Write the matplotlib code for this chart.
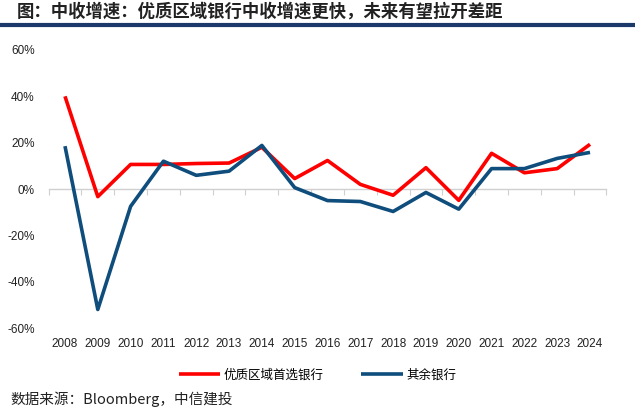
import matplotlib.pyplot as plt
import matplotlib.lines as mlines
from matplotlib.ticker import FixedLocator, FuncFormatter

plt.rcParams['font.family'] = ['Noto Sans CJK SC', 'DejaVu Sans']

# data (fee income growth, %)
years = [str(y) for y in range(2008, 2025)]
top_banks = [40.0, -3.3, 10.6, 10.6, 11.0, 11.2, 18.0, 4.5, 12.3, 2.0, -2.7,
             9.2, -4.9, 15.4, 7.0, 8.8, 19.3]
other_banks = [18.5, -52.0, -7.5, 12.0, 5.9, 7.7, 18.8, 0.6, -5.0, -5.4, -9.7,
               -1.5, -8.7, 8.8, 8.8, 13.2, 15.8]
legend_labels = ['优质区域首选银行', '其余银行']
title = '图：中收增速：优质区域银行中收增速更快，未来有望拉开差距'
source = '数据来源：Bloomberg，中信建投'

red = '#FF0000'
blue = '#0E4D7C'
navy = '#1B3A6B'

fig = plt.figure(figsize=(6.35, 4.2), dpi=100)
ax = fig.add_axes([0.0765, 0.219, 0.8785, 0.662])

x = list(range(len(years)))
l1, = ax.plot(x, top_banks, color=red, lw=2.6, solid_capstyle='butt', zorder=3)
l2, = ax.plot(x, other_banks, color=blue, lw=2.6, solid_capstyle='butt', zorder=4)

ax.set_xlim(-0.5, len(years) - 0.5)
ax.set_ylim(-60, 60)
ax.set_yticks(range(-60, 61, 20))
ax.yaxis.set_major_formatter(FuncFormatter(lambda v, p: f'{v:.0f}%'))
ax.tick_params(axis='y', length=0, pad=10, labelsize=8.5,
               labelfontfamily='Liberation Sans', labelcolor='#222222')

for s in ['top', 'right', 'left']:
    ax.spines[s].set_visible(False)
ax.spines['bottom'].set_position(('data', 0))
ax.spines['bottom'].set_color('#D0D0D0')
ax.spines['bottom'].set_linewidth(1)

# boundary tick marks on the zero line
ax.xaxis.set_major_locator(FixedLocator([i - 0.5 for i in range(len(years) + 1)]))
ax.tick_params(axis='x', which='major', length=4, color='#D0D0D0', labelbottom=False)

# year labels along the bottom
sec = ax.secondary_xaxis(0.0)
sec.set_xticks(x)
sec.set_xticklabels(years)
sec.spines['bottom'].set_visible(False)
sec.tick_params(length=0, pad=7, labelsize=8.5, labelfontfamily='Liberation Sans',
                labelcolor='#222222')

# title and rule
fig.text(0.027, 0.993, title, fontsize=12.5, fontweight='bold', va='top', ha='left',
         color='#222222')
fig.add_artist(mlines.Line2D([0, 1], [0.940, 0.940], color=navy, lw=3,
                             transform=fig.transFigure))

fig.legend([l1, l2], legend_labels, loc='center', bbox_to_anchor=(0.5, 0.107),
           ncol=2, frameon=False, fontsize=9, handlelength=3.3, columnspacing=3,
           handletextpad=0.3)

fig.text(0.016, 0.050, source, fontsize=10.5, va='center', ha='left', color='#222222')

fig.savefig('out.png', dpi=100)
